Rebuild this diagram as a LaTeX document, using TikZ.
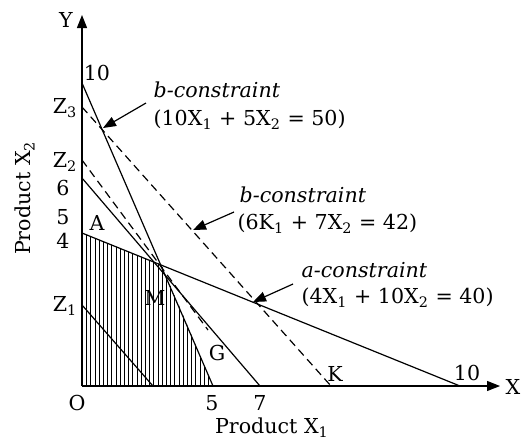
\documentclass[tikz,border=0pt]{standalone}
\usepackage{fontspec}
\setmainfont{DejaVu Serif}
\usetikzlibrary{arrows.meta}

\newcommand{\sbs}[1]{\textsubscript{#1}}

\begin{document}
\begin{tikzpicture}[x=0.5pt, y=-0.5pt, line width=0.6pt,
      >={Triangle[length=6.5pt, width=5pt]},
      lbl/.style={font=\fontsize{10.3}{11}\selectfont, inner sep=0.5pt},
      cons/.style={lbl, anchor=west},
      iso/.style={dash pattern=on 4pt off 2.5pt},
      hatch/.style={line width=0.55pt}]

    \useasboundingbox (0,0) rectangle (522,441);

    % End points of the lines (drawn to scale of the sketch, not of the numbers)
    \coordinate (O)    at (82,386);
    \coordinate (ytop) at (82,15);
    \coordinate (xend) at (500,386);
    \coordinate (b10)  at (82,83);
    \coordinate (b5)   at (213,386);
    \coordinate (b6)   at (82,178);
    \coordinate (b7)   at (260,386);
    \coordinate (a4)   at (82,233);
    \coordinate (a10)  at (460,386);
    \coordinate (z3)   at (82,107);
    \coordinate (kk)   at (331,386);
    \coordinate (z2)   at (82,160);
    \coordinate (gg)   at (208,330);
    \coordinate (z1)   at (82,305);
    \coordinate (z1e)  at (153,386);
    \coordinate (M)    at (162,265);

    % Feasible region, vertical hatching
    \begin{scope}
        \clip (O) -- (a4) -- (M) -- (b5) -- cycle;
        \foreach \x in {82.5,86.7,...,214} \draw[hatch] (\x,390) -- (\x,230);
    \end{scope}

    % Axes
    \draw[->] (O) -- (ytop);
    \draw[->] (O) -- (xend);

    % Constraint lines
    \draw (b10) -- (b5);
    \draw (b6) -- (b7);
    \draw (a4) -- (a10);

    % Iso-profit lines
    \draw (z1) -- (z1e);
    \draw[iso] (z2) -- (gg);
    \draw[iso] (z3) -- (kk);

    % Axis labels
    \node[lbl] (ylab) at (66,20) {Y};
    \node[lbl] (xlab) at (513,387) {X};
    \node[lbl] (olab) at (77,403) {O};
    \node[lbl] (x5)   at (212,403) {5};
    \node[lbl] (x7)   at (260,403) {7};
    \node[lbl] (x10)  at (467,373) {10};
    \node[lbl] (y10)  at (97,73) {10};
    \node[lbl] (y6)   at (63,188) {6};
    \node[lbl] (y5)   at (63,217) {5};
    \node[lbl] (y4)   at (63,241) {4};
    \node[lbl, anchor=east] (lz3) at (79,108) {Z\sbs{3}};
    \node[lbl, anchor=east] (lz2) at (79,162) {Z\sbs{2}};
    \node[lbl, anchor=east] (lz1) at (79,306) {Z\sbs{1}};
    \node[lbl] (pa) at (97,223) {A};
    \node[lbl] (pm) at (155,298) {M};
    \node[lbl] (pg) at (217,353) {G};
    \node[lbl] (pk) at (335,374) {K};
    \node[lbl] (px1) at (272,428) {Product X\sbs{1}};
    \node[lbl, rotate=90] (px2) at (25,198) {Product X\sbs{2}};

    % Constraint labels
    \node[cons] (t1a) at (152,90)  {\textit{b-constraint}};
    \node[cons] (t1b) at (152,120) {(10X\sbs{1} + 5X\sbs{2} = 50)};
    \node[cons] (t2a) at (238,195) {\textit{b-constraint}};
    \node[cons] (t2b) at (236,224) {(6K\sbs{1} + 7X\sbs{2} = 42)};
    \node[cons] (t3a) at (300,270) {\textit{a-constraint}};
    \node[cons] (t3b) at (300,298) {(4X\sbs{1} + 10X\sbs{2} = 40)};

    % Pointers
    \coordinate (p1s) at (146,103);  \coordinate (p1e) at (103,128);
    \coordinate (p2s) at (234,212);  \coordinate (p2e) at (193,230);
    \coordinate (p3s) at (293,284);  \coordinate (p3e) at (253,302);
    \draw[->] (p1s) -- (p1e);
    \draw[->] (p2s) -- (p2e);
    \draw[->] (p3s) -- (p3e);

\end{tikzpicture}
\end{document}
